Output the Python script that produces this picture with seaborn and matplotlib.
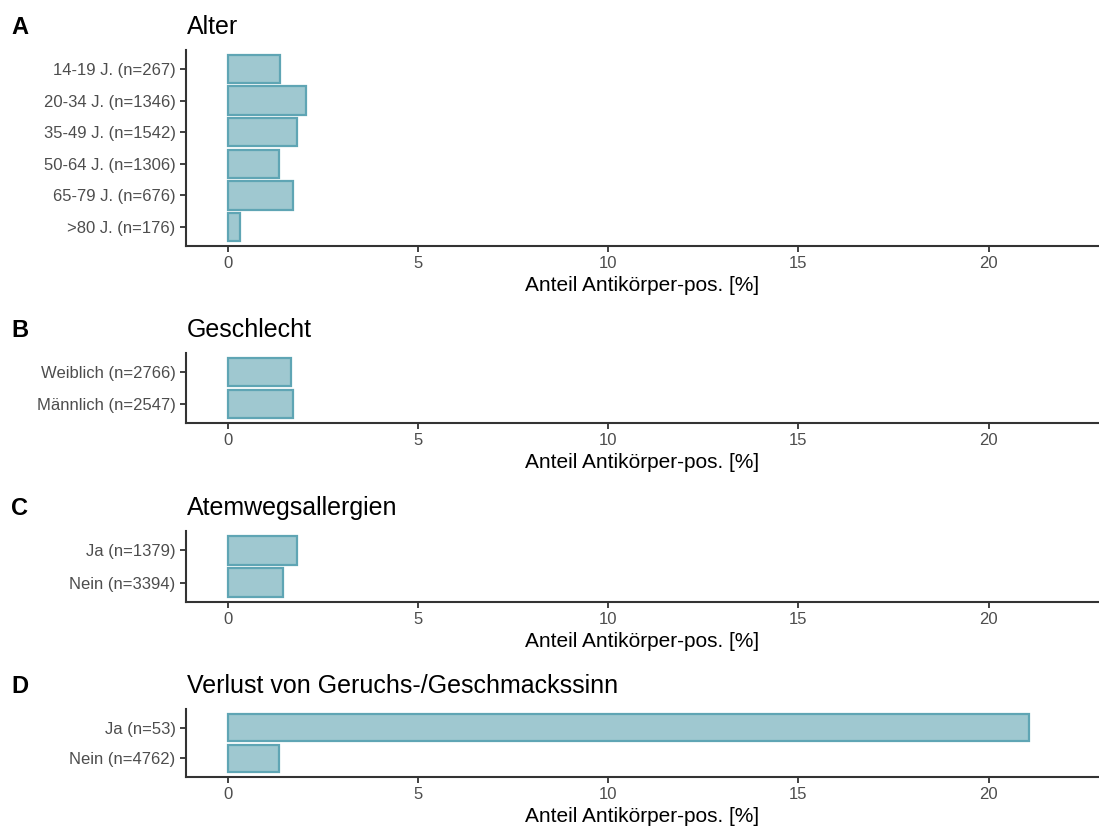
import matplotlib
matplotlib.use("Agg")
import matplotlib.pyplot as plt
import seaborn as sns
import pandas as pd

# ---- data ----
alter_labels = ["14-19 J. (n=267)", "20-34 J. (n=1346)", "35-49 J. (n=1542)",
                "50-64 J. (n=1306)", "65-79 J. (n=676)", ">80 J. (n=176)"]
alter_values = [1.38, 2.05, 1.82, 1.34, 1.70, 0.33]

geschlecht_labels = ["Weiblich (n=2766)", "Männlich (n=2547)"]
geschlecht_values = [1.66, 1.70]

allergie_labels = ["Ja (n=1379)", "Nein (n=3394)"]
allergie_values = [1.83, 1.46]

geruch_labels = ["Ja (n=53)", "Nein (n=4762)"]
geruch_values = [21.07, 1.34]

panel_letters = ["A", "B", "C", "D"]
panel_titles = ["Alter", "Geschlecht", "Atemwegsallergien",
                "Verlust von Geruchs-/Geschmackssinn"]
x_ticks = [0, 5, 10, 15, 20]
x_label = "Anteil Antikörper-pos. [%]"

panels = [(alter_labels, alter_values), (geschlecht_labels, geschlecht_values),
          (allergie_labels, allergie_values), (geruch_labels, geruch_values)]

# ---- style ----
sns.set_theme(style="ticks")
plt.rcParams["font.family"] = ["Liberation Sans", "DejaVu Sans"]

W, H = 1099, 831
fig = plt.figure(figsize=(W / 100, H / 100), dpi=100)

fill = "#9fc8d0"
edge = "#5fa5b4"
axis_col = "#333333"
tick_txt = "#4d4d4d"

# axes boxes in pixels: (top, bottom)
boxes = [(50, 246), (353, 423), (531, 602), (709, 777)]
left_px = 186

for (labels, values), (top, bot), letter, title in zip(panels, boxes, panel_letters, panel_titles):
    ax = fig.add_axes([left_px / W, 1 - bot / H, 1 - left_px / W, (bot - top) / H])
    df = pd.DataFrame({"label": labels, "value": values})
    sns.barplot(data=df, x="value", y="label", orient="h", color=fill,
                edgecolor=edge, linewidth=1.6, width=0.9, saturation=1, ax=ax)
    n = len(labels)
    ax.set_xlim(-1.1, 22.9)
    ax.set_ylim(n - 1 + 0.6, -0.6)
    ax.set_xticks(x_ticks)
    ax.set_xticklabels([str(t) for t in x_ticks])
    ax.set_ylabel("")
    ax.set_xlabel(x_label, fontsize=15, color="black", labelpad=3)
    for s in ["top", "right"]:
        ax.spines[s].set_visible(False)
    for s in ["left", "bottom"]:
        ax.spines[s].set_linewidth(1.5)
        ax.spines[s].set_color(axis_col)
    ax.tick_params(axis="both", length=4.5, width=1.3, color=axis_col,
                   labelcolor=tick_txt, labelsize=12, pad=3)
    ax.grid(False)
    ybase = 1 - (top - 16) / H
    fig.text(187 / W, ybase, title, fontsize=18, ha="left", va="baseline", color="black")
    fig.text(11 / W, ybase, letter, fontsize=17, fontweight="bold", ha="left",
             va="baseline", color="black")

fig.savefig("out.png", dpi=100, facecolor="white")
